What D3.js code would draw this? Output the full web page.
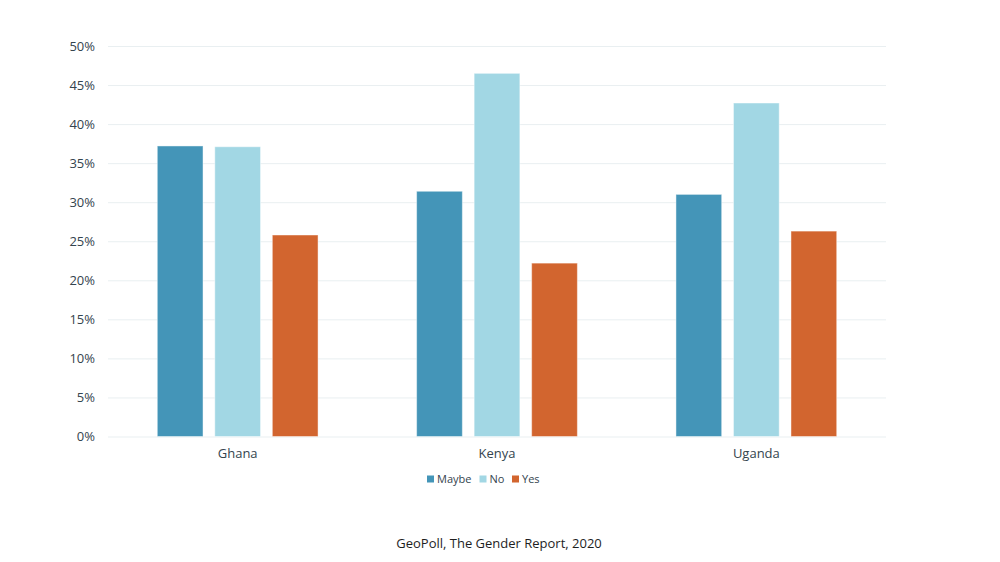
<!DOCTYPE html>
<html lang="en">
<head>
    <meta charset="UTF-8">
    <script src="https://d3js.org/d3.v7.min.js"></script>
    <title>GeoPoll Gender Report 2020</title>
    <style>
        html, body {
            margin: 0px;
            padding: 0px;
            background-color: #ffffff;
            font-family: "Open Sans", sans-serif;
        }
    </style>
</head>
<body>
    <div id="chart"></div>
    <script>

        let countries = ['Ghana', 'Kenya', 'Uganda'];
        let answers = ['Maybe', 'No', 'Yes'];
        let maybe_values = [37.2, 31.4, 31.0];
        let no_values = [37.1, 46.5, 42.7];
        let yes_values = [25.8, 22.2, 26.3];
        let y_ticks = [0, 5, 10, 15, 20, 25, 30, 35, 40, 45, 50];
        let source_text = 'GeoPoll, The Gender Report, 2020';

        let colours = { 'Maybe': '#4495b8', 'No': '#a2d7e4', 'Yes': '#d2652f' };
        let text_colour = '#34444e';

        let rows = countries.map((c, i) => ({
            country: c,
            Maybe: maybe_values[i],
            No: no_values[i],
            Yes: yes_values[i]
        }));

        let width = 1000;
        let height = 562;
        let margin = { top: 46, right: 114, bottom: 125.5, left: 108 };

        let svg = d3.select('#chart').append('svg')
            .attr('width', width)
            .attr('height', height);

        let x0 = d3.scaleBand()
            .domain(countries)
            .range([margin.left, width - margin.right])
            .padding(0);

        let x1 = d3.scaleBand()
            .domain(answers)
            .range([0, x0.bandwidth()])
            .paddingInner(0.205)
            .paddingOuter(0.857);

        let y = d3.scaleLinear()
            .domain([0, 50])
            .range([height - margin.bottom, margin.top]);

        // gridlines + tick labels
        let y_axis = d3.axisLeft(y)
            .tickValues(y_ticks)
            .tickSize(-(width - margin.left - margin.right))
            .tickPadding(13)
            .tickFormat(d => d + '%');

        let yg = svg.append('g')
            .attr('transform', `translate(${margin.left},0)`)
            .call(y_axis);
        yg.select('.domain').remove();
        yg.selectAll('.tick line')
            .attr('stroke', '#e9eff1')
            .attr('stroke-width', 1);
        yg.selectAll('.tick text')
            .attr('fill', text_colour)
            .attr('font-size', '13px')
            .attr('font-family', '"Open Sans", sans-serif');

        // bars
        let groups = svg.append('g').selectAll('g')
            .data(rows)
            .join('g')
            .attr('transform', d => `translate(${x0(d.country)},0)`);

        groups.selectAll('rect')
            .data(d => answers.map(a => ({ key: a, value: d[a] })))
            .join('rect')
            .attr('x', d => x1(d.key))
            .attr('y', d => y(d.value))
            .attr('width', x1.bandwidth())
            .attr('height', d => y(0) - y(d.value))
            .attr('fill', d => colours[d.key])
            .attr('stroke', '#ffffff')
            .attr('stroke-opacity', 0.45)
            .attr('stroke-width', 1);

        // category labels
        let x_axis = d3.axisBottom(x0).tickSize(0).tickPadding(12);
        let xg = svg.append('g')
            .attr('transform', `translate(0,${y(0)})`)
            .call(x_axis);
        xg.select('.domain').remove();
        xg.selectAll('.tick text')
            .attr('fill', text_colour)
            .attr('font-size', '13px')
            .attr('font-family', '"Open Sans", sans-serif');

        // legend
        let legend_x = [427, 479.5, 512];
        let legend = svg.append('g').selectAll('g')
            .data(answers)
            .join('g')
            .attr('transform', (d, i) => `translate(${legend_x[i]},479)`);

        legend.append('rect')
            .attr('x', 0)
            .attr('y', -3.5)
            .attr('width', 7)
            .attr('height', 7)
            .attr('fill', d => colours[d]);

        legend.append('text')
            .attr('x', 10)
            .attr('y', 0)
            .attr('dy', '0.35em')
            .attr('fill', text_colour)
            .attr('font-size', '11px')
            .text(d => d);

        // source
        svg.append('text')
            .attr('x', 499)
            .attr('y', 543)
            .attr('dy', '0.35em')
            .attr('text-anchor', 'middle')
            .attr('fill', '#1e1e1e')
            .attr('font-size', '13px')
            .text(source_text);

    </script>
</body>
</html>
